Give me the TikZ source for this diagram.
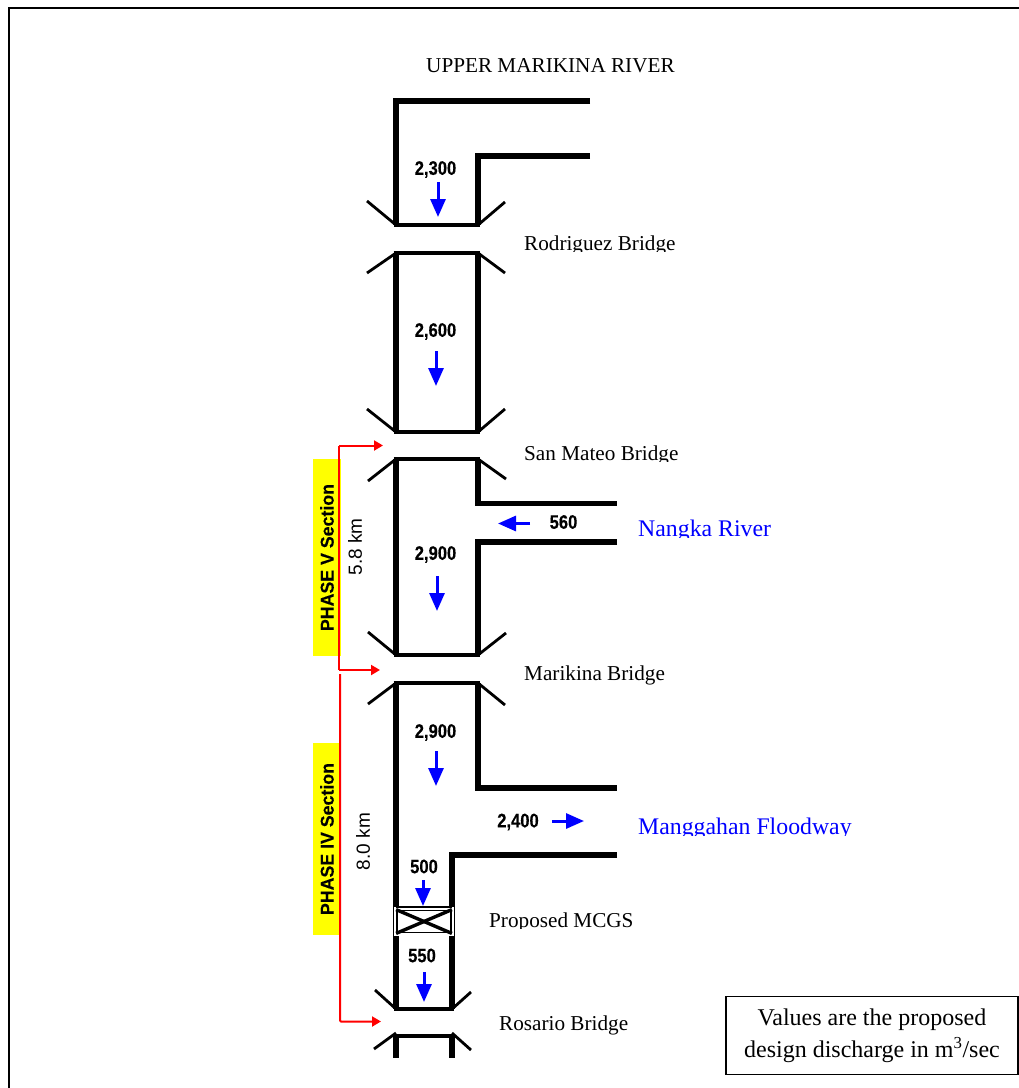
\documentclass[tikz,border=0pt]{standalone}
\usepackage{xcolor}
\usepackage{fontspec}
\setmainfont{Liberation Serif}
\setsansfont{Liberation Sans}
\newfontfamily\valfont[FakeStretch=0.85,FakeBold=0.3]{Liberation Sans}
\newfontfamily\phasefont[FakeStretch=0.96,FakeBold=0.2]{Liberation Sans}
\definecolor{phaseyellow}{RGB}{255,255,0}
\definecolor{flowblue}{RGB}{0,0,255}
\definecolor{reachred}{RGB}{255,0,0}
\usetikzlibrary{arrows.meta, positioning}

\begin{document}
\begin{tikzpicture}[
    x=1pt, y=-1pt,
    wall/.style={draw, line width=5.2pt},
    bar/.style={draw, line width=4pt},
    wing/.style={draw, line width=2.8pt},
    flow/.style={draw=flowblue, line width=3pt, -{Triangle[length=18pt, width=15pt]}},
    reach/.style={draw=reachred, line width=2pt, rounded corners=1pt, -{Triangle[length=9pt, width=10pt]}},
    val/.style={inner sep=0pt, font=\fontsize{19.5}{21}\selectfont\valfont\bfseries},
    place/.style={anchor=base west, inner sep=0pt, font=\fontsize{21.2}{24}\selectfont},
    branch/.style={anchor=base west, inner sep=0pt, text=flowblue, font=\fontsize{23.8}{26}\selectfont},
    phase/.style={fill=phaseyellow, minimum height=27.5pt, inner sep=0pt, rotate=90, font=\fontsize{18.5}{20}\selectfont\phasefont\bfseries},
    dist/.style={inner sep=0pt, rotate=90, font=\fontsize{19}{21}\selectfont\sffamily},
    cut/.style={fill=white}
]
\useasboundingbox (0,0) rectangle (1019,1088);

% Frame
\draw[line width=2.4pt] (9,1088) |- (1019,8);

% Labels
\node (upper) [place] at (426,72) {UPPER MARIKINA RIVER};
\node (rodriguez) [place] at (524,250) {Rodriguez Bridge};
\node (sanmateo) [place] at (524,460) {San Mateo Bridge};
\node (marikina) [place] at (524,680) {Marikina Bridge};
\node (mcgslabel) [place] at (489,927) {Proposed MCGS};
\node (rosario) [place] at (499,1030) {Rosario Bridge};
\node (nangka) [branch] at (638,536) {Nangka River};
\node (manggahan) [branch] at (638,834) {Manggahan Floodway};

% descenders are cut off in the drawing
\fill[cut] (520,251.5) rectangle (680,258);
\fill[cut] (520,461.5) rectangle (682,468);
\fill[cut] (634,537.5) rectangle (775,544);
\fill[cut] (634,835.5) rectangle (856,842);
\fill[cut] (485,929) rectangle (638,936);

% Upper Marikina to Rodriguez
\draw[wall] (590,101) -| (396,225);
\draw[wall] (590,156) -| (478,225);
\draw[bar] (393.6,225) -- (480.4,225);
\draw[wing] (367,201) -- (396,225);
\draw[wing] (505,202) -- (478,225);

% Rodriguez to San Mateo
\draw[wall] (396,253) -- (396,432);
\draw[wall] (478,253) -- (478,432);
\draw[bar] (393.6,253) -- (480.4,253);
\draw[bar] (393.6,432) -- (480.4,432);
\draw[wing] (367,273) -- (396,253);
\draw[wing] (505,273) -- (478,253);
\draw[wing] (367,409) -- (396,432);
\draw[wing] (505,409) -- (478,432);

% San Mateo to Marikina
\draw[wall] (396,459) -- (396,655);
\draw[wall] (478,459) |- (617,503.5);
\draw[wall] (617,542) -| (478,655);
\draw[bar] (393.6,459) -- (480.4,459);
\draw[bar] (393.6,655) -- (480.4,655);
\draw[wing] (368,481) -- (396,459);
\draw[wing] (506,479) -- (478,459);
\draw[wing] (368,632) -- (396,655);
\draw[wing] (506,633) -- (478,655);

% Marikina to Rosario
\draw[wall] (396,683) -- (396,1009);
\draw[wall] (478,683) |- (617,788);
\draw[wall] (617,855) -| (452,1009);
\draw[bar] (393.6,683) -- (480.4,683);
\draw[bar] (393.6,1009) -- (454.4,1009);
\draw[wing] (368,704) -- (396,683);
\draw[wing] (505,705) -- (478,683);
\draw[wing] (375,990) -- (396,1009);
\draw[wing] (471,992) -- (452,1009);

% Below Rosario
\draw[wall] (396,1036) -- (396,1058);
\draw[wall] (452,1036) -- (452,1058);
\draw[bar] (393.6,1036) -- (454.4,1036);
\draw[wing] (374,1049) -- (396,1033);
\draw[wing] (471,1050) -- (452,1033);

% Gate
\node (gateouter) [fill=white, minimum width=60pt, minimum height=29pt, inner sep=0pt] at (424,921.5) {};
\node (gate) [draw, line width=1.8pt, minimum width=54pt, minimum height=22pt, inner sep=0pt] at (424,921.5) {};
\draw[line width=1.6pt] ([xshift=2pt]gateouter.north west) -- ([xshift=-2pt]gateouter.north east);
\draw[line width=3.4pt] (gate.north west) -- (gate.south east);
\draw[line width=3.4pt] (gate.south west) -- (gate.north east);

% Discharge values
\node (v2300) [val] at (435.5,169.5) {2,300};
\node (v2600) [val] at (435.5,331.5) {2,600};
\node (v2900a) [val] at (435.5,554.5) {2,900};
\node (v560) [val, fill=white, minimum width=58pt, minimum height=32pt] at (563.5,522) {560};
\node (v2900b) [val] at (435.5,732.5) {2,900};
\node (v2400) [val] at (518,822) {2,400};
\node (v500) [val] at (424,866.5) {500};
\node (v550) [val] at (422,955.5) {550};

% Flow arrows
\path (438,182) coordinate (f2300) (438,217) coordinate (t2300);
\path (436,351) coordinate (f2600) (436,386) coordinate (t2600);
\path (437,576) coordinate (f2900a) (437,611) coordinate (t2900a);
\path (530,523.5) coordinate (f560) (498,523.5) coordinate (t560);
\path (436,751) coordinate (f2900b) (436,786) coordinate (t2900b);
\path (552,821) coordinate (f2400) (584,821) coordinate (t2400);
\path (423,880) coordinate (f500) (423,906) coordinate (t500);
\path (424,972) coordinate (f550) (424,1002) coordinate (t550);
\draw[flow] (f2300) -- (t2300);
\draw[flow] (f2600) -- (t2600);
\draw[flow] (f2900a) -- (t2900a);
\draw[flow] (f560) -- (t560);
\draw[flow] (f2900b) -- (t2900b);
\draw[flow] (f2400) -- (t2400);
\draw[flow] (f500) -- (t500);
\draw[flow] (f550) -- (t550);

% Phase sections
\node (phaseV) [phase, minimum width=197pt] at (327,557.5) {PHASE V Section};
\node (phaseIV) [phase, minimum width=192pt] at (327,839) {PHASE IV Section};
\node (kmV) [dist] at (355,547) {5.8 km};
\node (kmIV) [dist] at (363,841.5) {8.0 km};

\coordinate (sanmateoend) at (383,445.5);
\coordinate (bendV) at (339,670);
\coordinate (marikinaend) at (380,670);
\coordinate (phaseIVstart) at (340,674);
\coordinate (rosarioend) at (381,1021.5);
\draw[reach] (bendV |- sanmateoend) -- (sanmateoend);
\draw[reach, -] (bendV |- sanmateoend) -- (bendV);
\draw[reach] (bendV) -- (marikinaend);
\draw[reach] (phaseIVstart) |- (rosarioend);

% Note
\node (note) [draw, line width=1.8pt, minimum width=292pt, minimum height=78pt, inner sep=0pt, align=center, font=\fontsize{24}{32}\selectfont] at (872,1035.5) {Values are the proposed\\design discharge in m\textsuperscript{3}/sec};

\end{tikzpicture}
\end{document}
